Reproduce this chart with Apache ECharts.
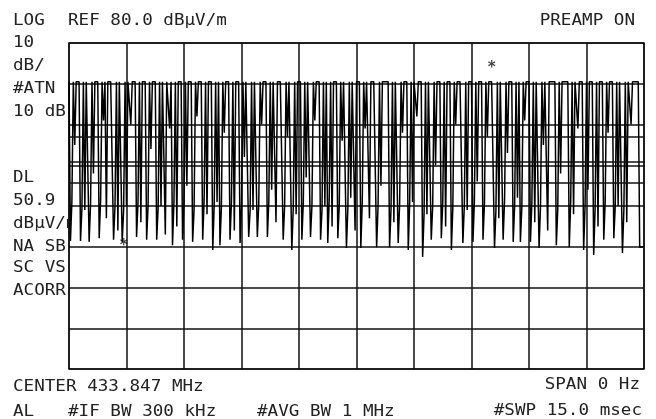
<!DOCTYPE html>
<html><head><meta charset="utf-8">
<script src="https://cdn.jsdelivr.net/npm/echarts@6/dist/echarts.min.js"></script>
<style>html,body{margin:0;padding:0;background:#fff}#c{width:656px;height:419px}</style>
</head><body><div id="c"></div>
<script>
// Analyzer settings
const sweepMs = 15.0;          // #SWP 15.0 msec, zero span
const refLevel = 80;           // REF 80.0 dBµV/m
const dbPerDiv = 10;
const divisionsY = 8;
const divisionsX = 10;
const displayLine = 50.9;      // DL 50.9 dBµV/m
const extraLines = [56.9, 45.6];

// Trace (401 points, dBµV/m)
const levels = [
70.5,31.4,41,70.5,55,70.5,70.5,70.5,31.4,39.5,
70.5,39,70.5,70.5,31.2,40.5,70.5,48,70.5,70.5,
70.5,32.1,41.5,70.5,61,70.5,37,70.5,70.5,70.5,
70.5,31.7,40,70.5,34,70.5,70.5,31.2,39,70.5,
40,70.5,70.5,60,70.5,70.5,70.5,32.4,41,70.5,
36,70.5,70.5,70.5,31.7,40,70.5,54,70.5,70.5,
70.5,31.7,39.5,70.5,40,70.5,70.5,33,70.5,70.5,
59,70.5,30.4,41,70.5,35,70.5,70.5,70.5,31.7,
40.5,70.5,45,70.5,70.5,70.5,31.2,39,70.5,62,
70.5,70.5,70.5,31.7,41.5,70.5,38,70.5,70.5,70.5,
29.2,40,70.5,41,70.5,30.4,39.5,70.5,58,70.5,
70.5,70.5,31.7,41,70.5,34,70.5,70.5,70.5,30.9,
40,70.5,52,70.5,70.5,32.4,39,70.5,39,70.5,
70.5,32.4,40.5,70.5,60,70.5,70.5,70.5,32.4,41,
70.5,44,70.5,70.5,36,70.5,70.5,70.5,70.5,31.7,
40,70.5,57,70.5,70.5,29.2,39.5,70.5,38,70.5,
70.5,70.5,31.7,41,70.5,47,70.5,70.5,32.4,40,
70.5,61,70.5,70.5,70.5,31.7,39,70.5,40,70.5,
30.9,41.5,70.5,35,70.5,70.5,70.5,32.1,40,70.5,
56,70.5,70.5,29.7,39.5,70.5,42,70.5,70.5,34,
70.5,70.5,70.5,29.7,41,70.5,59,70.5,70.5,37,
70.5,70.5,70.5,70.5,29.9,40,70.5,45,70.5,70.5,
70.5,70.5,70.5,29.9,39,70.5,36,70.5,70.5,30.9,
40.5,70.5,58,70.5,70.5,70.5,29.2,41,70.5,41,
70.5,70.5,62,70.5,70.5,70.5,27.5,38,70.5,38,
70.5,70.5,31.7,40,70.5,50,70.5,70.5,70.5,32.1,
41,70.5,35,70.5,70.5,70.5,29.2,39.5,70.5,60,
70.5,70.5,70.5,70.5,30.9,40,70.5,39,70.5,70.5,
70.5,31.2,41,70.5,46,70.5,70.5,70.5,31.7,40.5,
70.5,57,70.5,70.5,70.5,70.5,29.7,39,70.5,37,
70.5,70.5,31.7,41.5,70.5,53,70.5,70.5,70.5,31.2,
40,70.5,42,70.5,31.2,39.5,70.5,61,70.5,70.5,
70.5,31.2,41,70.5,36,70.5,70.5,29.7,40,70.5,
55,70.5,70.5,34,70.5,70.5,70.5,70.5,70.5,30.4,
39,70.5,48,70.5,70.5,70.5,70.5,70.5,29.9,41,
70.5,38,70.5,70.5,59,70.5,70.5,70.5,29.2,40,
70.5,44,70.5,70.5,70.5,28,39.5,70.5,35,70.5,
70.5,70.5,31.7,41,70.5,58,70.5,70.5,70.5,32.1,
40,70.5,40,70.5,70.5,28.5,39,70.5,36,70.5,
70.5,60,70.5,70.5,70.5,70.5,70.5,29.9,30,30,
30
];

// Marker asterisks (time ms, level)
const markerTimes = [1.43, 11.03];
const markerLevels = [31, 74.6];

// Annotation texts
const topLeft = 'LOG';
const refText = 'REF 80.0 dBµV/m';
const topRight = 'PREAMP ON';
const leftCol1 = ['10', 'dB/', '#ATN', '10 dB'];
const leftCol2 = ['DL', '50.9', 'dBµV/m', 'NA SB', 'SC VS', 'ACORR'];
const centerText = 'CENTER 433.847 MHz';
const spanText = 'SPAN 0 Hz';
const bottomTexts = ['AL', '#IF BW 300 kHz', '#AVG BW 1 MHz'];
const sweepText = '#SWP 15.0 msec';

const trace = levels.map((v, i) => [i * sweepMs / (levels.length - 1), v]);
const markers = markerTimes.map((t, i) => [t, markerLevels[i]]);

const FONT = '17.6px "DejaVu Sans Mono"';
const INK = '#222';
function txt(s, x, y, align, z) {
  return { type: 'text', x: x, y: y, scaleY: 0.93, z: z || 0,
    style: { text: s, x: 0, y: 0, font: FONT, fill: INK, align: align || 'left', verticalAlign: 'middle' } };
}

const graphics = [
  txt(topLeft, 13, 21),
  txt(refText, 68, 21),
  txt(topRight, 635, 21, 'right'),
  txt(centerText, 13, 387),
  txt(spanText, 640, 385, 'right'),
  txt(bottomTexts[0], 13, 412),
  txt(bottomTexts[1], 68, 412),
  txt(bottomTexts[2], 257, 412),
  txt(sweepText, 642, 411, 'right')
];
const col1Y = [43, 66, 89, 112];
leftCol1.forEach((s, i) => graphics.push(txt(s, 13, col1Y[i])));
const col2Y = [178, 201, 224, 247, 268, 291];
leftCol2.forEach((s, i) => graphics.push(txt(s, 13, col2Y[i])));
// mask the part of the label hidden behind the graticule
graphics.push({ type: 'rect', z: 1, shape: { x: 70, y: 213, width: 14, height: 22 }, style: { fill: '#fff' } });

const chart = echarts.init(document.getElementById('c'), null, { renderer: 'canvas' });
chart.setOption({
  animation: false,
  backgroundColor: '#fff',
  grid: { left: 69, right: 12, top: 43, bottom: 50, show: true, borderColor: '#111', borderWidth: 1.5, backgroundColor: 'transparent' },
  xAxis: {
    type: 'value', min: 0, max: sweepMs, interval: sweepMs / divisionsX,
    axisLine: { show: false }, axisTick: { show: false }, axisLabel: { show: false },
    splitLine: { show: true, lineStyle: { color: '#111', width: 1.5 } }
  },
  yAxis: {
    type: 'value', min: refLevel - dbPerDiv * divisionsY, max: refLevel, interval: dbPerDiv,
    axisLine: { show: false }, axisTick: { show: false }, axisLabel: { show: false },
    splitLine: { show: true, lineStyle: { color: '#111', width: 1.5 } }
  },
  graphic: { elements: graphics },
  series: [
    {
      type: 'line', data: trace, showSymbol: false, z: 3,
      lineStyle: { color: '#000', width: 1.5 },
      markLine: {
        silent: true, symbol: 'none', label: { show: false },
        lineStyle: { color: '#111', width: 1.5, type: 'solid' },
        data: [{ yAxis: displayLine }].concat(extraLines.map(v => ({ yAxis: v })))
      }
    },
    {
      type: 'scatter', data: markers, symbolSize: 1, z: 4,
      itemStyle: { color: 'transparent' },
      label: { show: true, position: 'inside', formatter: '*', color: '#111', fontSize: 15, fontWeight: 'bold', fontFamily: 'DejaVu Sans Mono', offset: [0, 3] }
    }
  ]
});
</script>
</body></html>
